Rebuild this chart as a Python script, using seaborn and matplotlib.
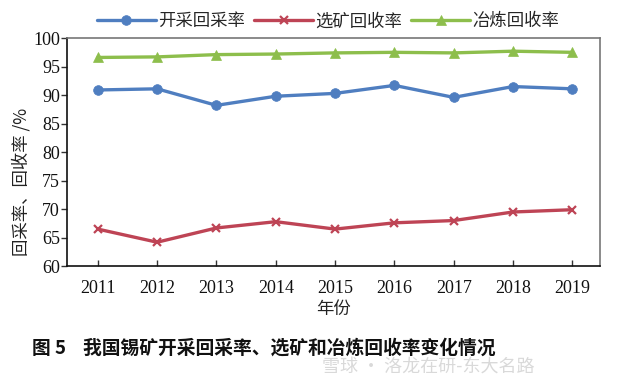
import numpy as np
import pandas as pd
import matplotlib
matplotlib.use("Agg")
import matplotlib.pyplot as plt
import seaborn as sns

years = ["2011", "2012", "2013", "2014", "2015", "2016", "2017", "2018", "2019"]
mining = [90.9, 91.1, 88.2, 89.8, 90.3, 91.7, 89.6, 91.5, 91.1]
dressing = [66.5, 64.2, 66.7, 67.8, 66.5, 67.6, 68.0, 69.5, 69.9]
smelting = [96.6, 96.7, 97.1, 97.2, 97.4, 97.5, 97.4, 97.7, 97.5]
names = ["开采回采率", "选矿回收率", "冶炼回收率"]

sns.set_theme(style="white")
plt.rcParams['font.family'] = ['Liberation Serif', 'Noto Sans CJK SC', 'DejaVu Sans']

fig = plt.figure(figsize=(6.44, 3.77), dpi=100)
ax = fig.add_axes([0.104, 0.294, 0.828, 0.605])

pos = np.arange(len(years))
df = pd.DataFrame({"x": np.tile(pos, 3),
                   "y": mining + dressing + smelting,
                   "s": np.repeat(names, len(years))})

colors = {"开采回采率": "#4F7EC0", "选矿回收率": "#BE4455", "冶炼回收率": "#8DBE4C"}
marks = {"开采回采率": "o", "选矿回收率": "x", "冶炼回收率": "^"}
for n in names:
    sub = df[df.s == n]
    if n == "选矿回收率":
        kw = dict(markersize=6, markeredgewidth=1.6)
    else:
        kw = dict(markersize=7, markeredgewidth=0.5)
    sns.lineplot(data=sub, x="x", y="y", ax=ax, color=colors[n], lw=2.4,
                 marker=marks[n], markeredgecolor=colors[n], label=n, **kw)

ax.set_xlim(-0.52, 8.47)
ax.set_ylim(60, 100)
ax.set_yticks(range(60, 101, 5))
ax.set_xticks(pos)
ax.set_xticklabels(years)
ax.tick_params(axis='x', direction='in', length=4, width=1, color='#333333',
               labelsize=13, pad=10, bottom=True)
ax.tick_params(axis='y', direction='out', length=4, width=1, color='#333333',
               labelsize=13, pad=1, left=True)
for lab in ax.get_xticklabels() + ax.get_yticklabels():
    lab.set_color('#111111')

for s in ['left', 'bottom']:
    ax.spines[s].set_color('#111111')
    ax.spines[s].set_linewidth(1.2)
for s in ['top', 'right']:
    ax.spines[s].set_color('#777777')
    ax.spines[s].set_linewidth(1.2)

cjk = ['Noto Sans CJK SC', 'DejaVu Sans']
ax.set_xlabel("年份", family=cjk, fontsize=12.5, color='#222222', labelpad=2)
ax.set_ylabel("回采率、回收率 /%", family=cjk, fontsize=12.5, color='#222222')
ax.yaxis.set_label_coords(-0.068, 0.37)

leg = ax.legend(loc='lower center', bbox_to_anchor=(0.49, 1.0), ncol=3, frameon=False,
                prop={'family': cjk, 'size': 12.5}, handlelength=3.4,
                columnspacing=0.5, handletextpad=0.15, borderaxespad=0.05)

fig.text(0.05, 0.077, "图 5    我国锡矿开采回采率、选矿和冶炼回收率变化情况",
         family=cjk, fontsize=13.5, fontweight='bold', color='#111111', va='center')
fig.text(0.50, 0.027, "雪球 · 洛龙在研-东大名路", family=cjk, fontsize=13,
         color='#d0d0d0', alpha=0.8, va='center')

fig.savefig("out.png", dpi=100)
